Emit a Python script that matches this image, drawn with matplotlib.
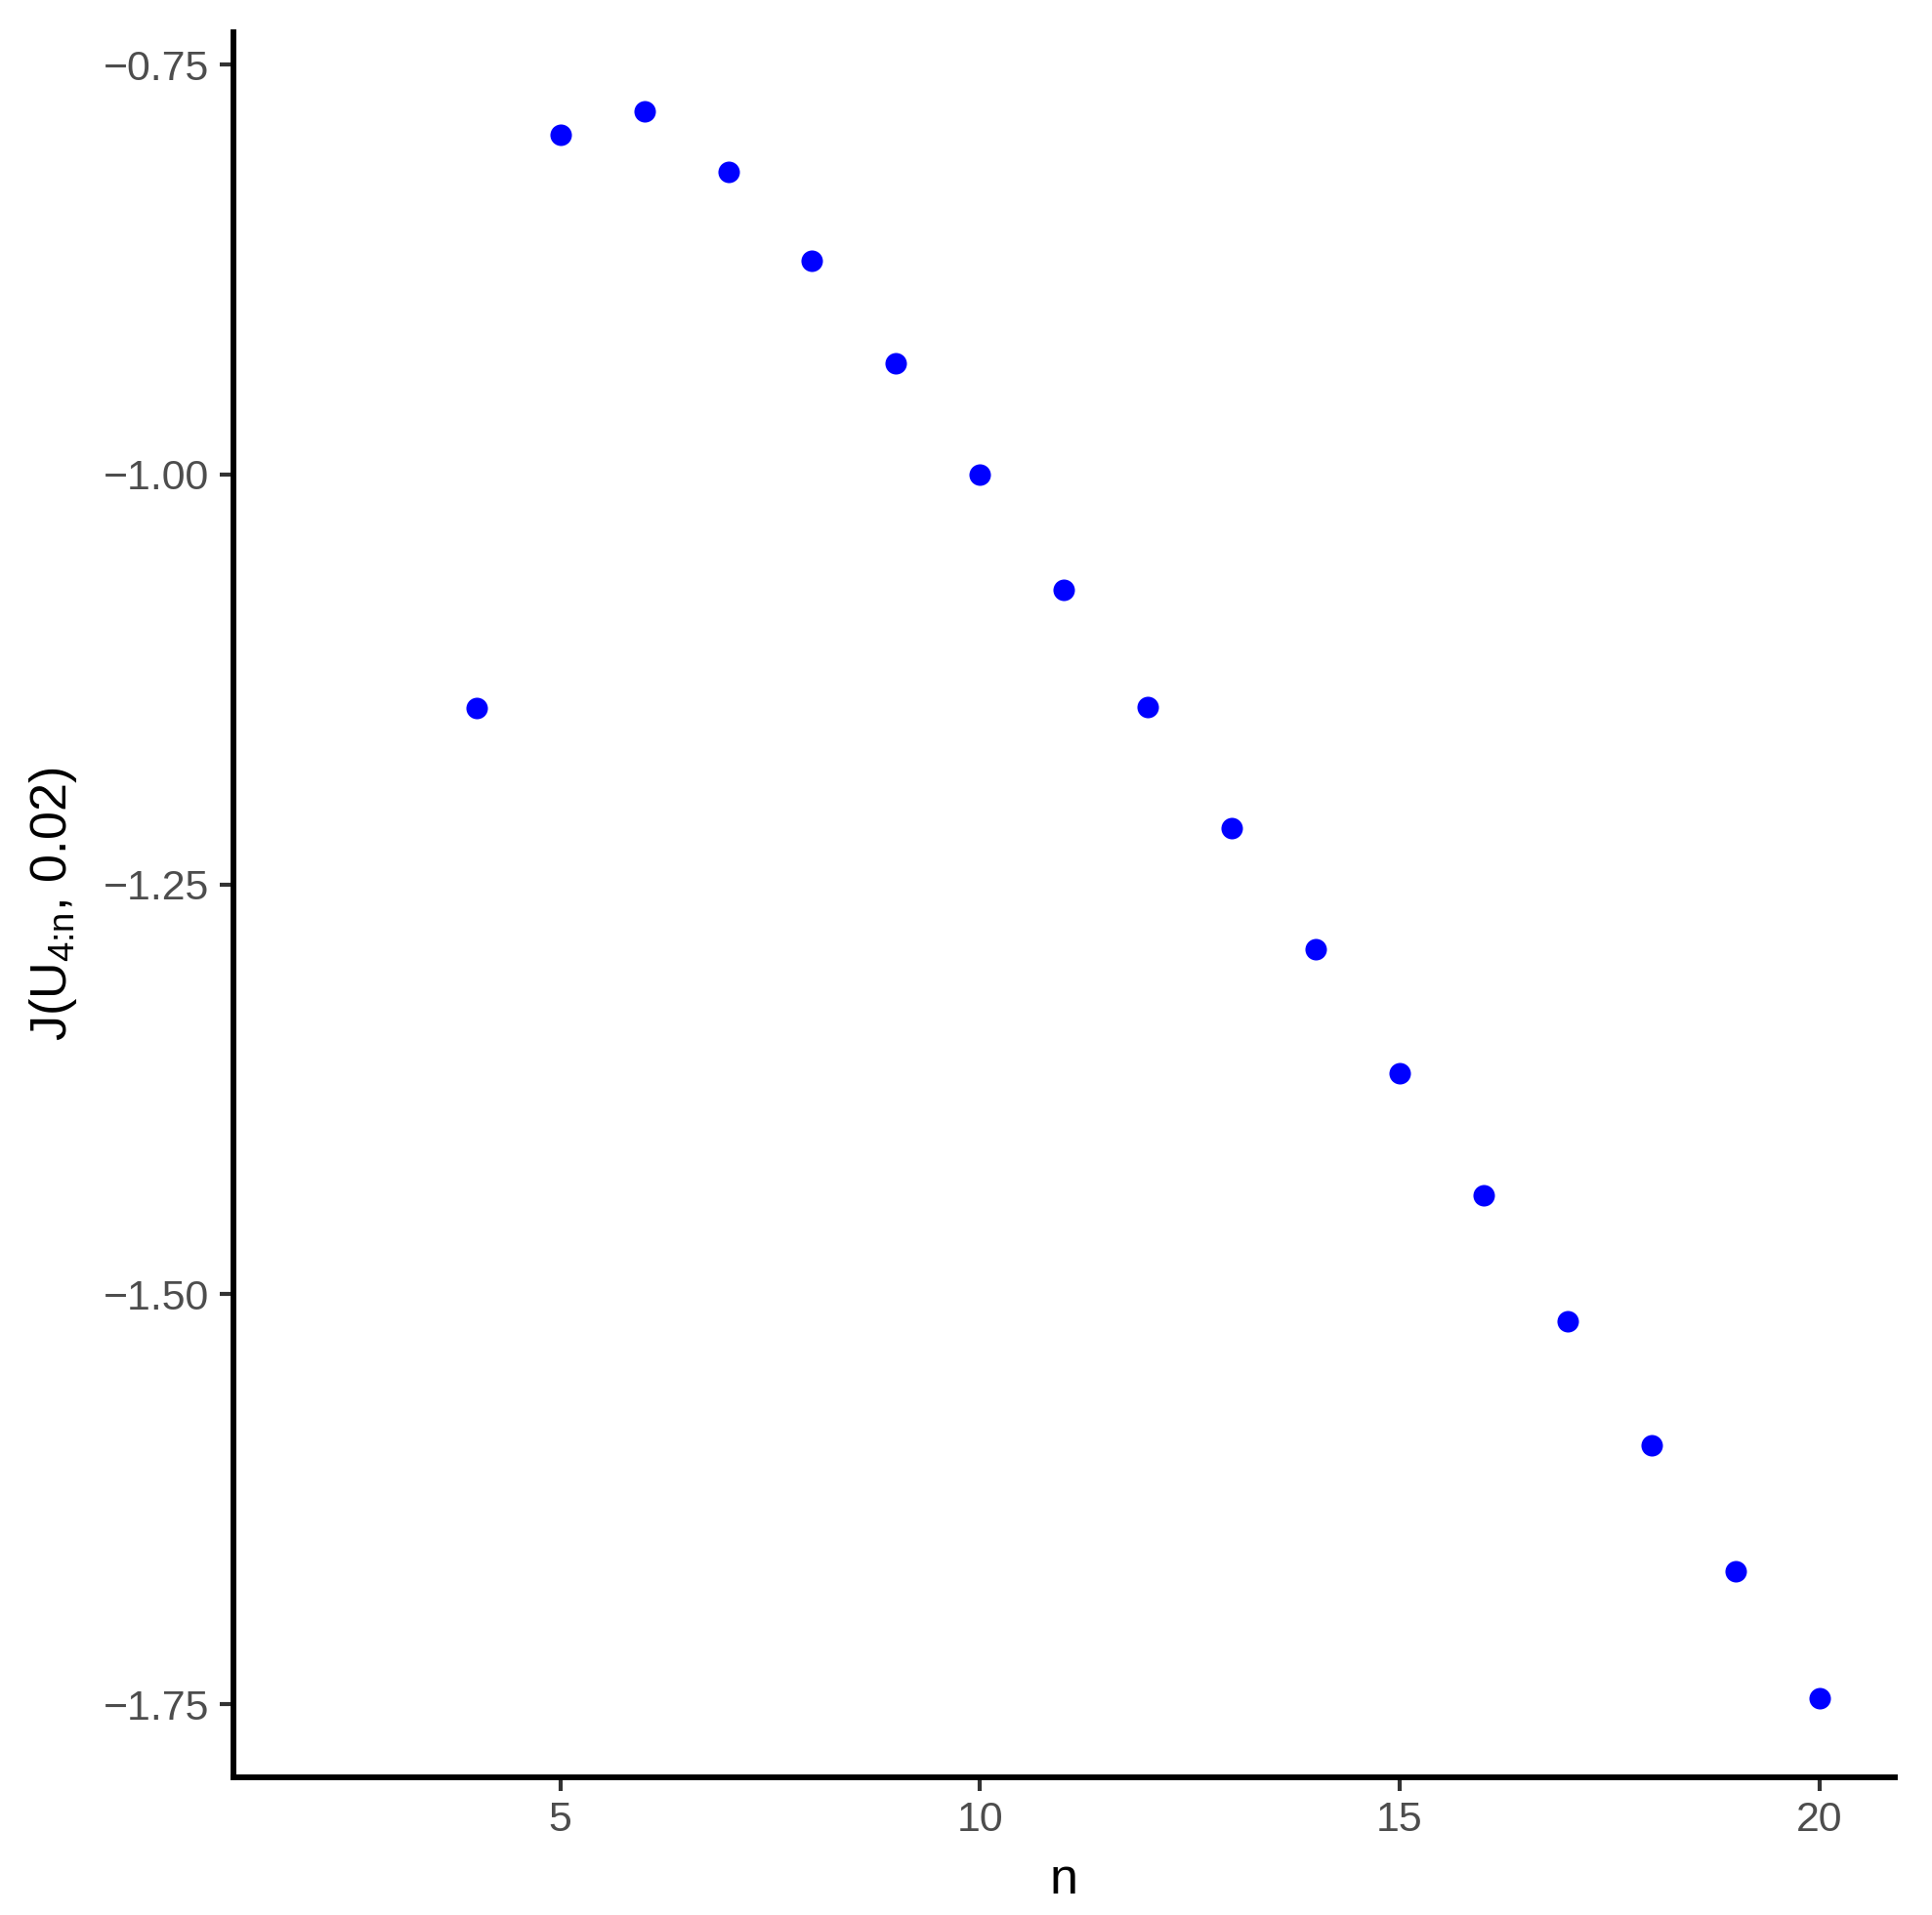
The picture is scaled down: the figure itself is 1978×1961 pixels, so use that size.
import matplotlib
matplotlib.use('Agg')
import matplotlib.pyplot as plt

# values
n_values = [4, 5, 6, 7, 8, 9, 10, 11, 12, 13, 14, 15, 16, 17, 18, 19, 20]
j_values = [-1.1426, -0.7928, -0.7785, -0.8153, -0.8694, -0.9324, -1.0000,
            -1.0706, -1.1419, -1.2155, -1.2898, -1.3649, -1.4399, -1.5165,
            -1.5923, -1.6689, -1.7462]
y_ticks = [-0.75, -1.00, -1.25, -1.50, -1.75]
x_ticks = [5, 10, 15, 20]

plt.rcParams['font.family'] = ['Liberation Sans', 'DejaVu Sans']
plt.rcParams['mathtext.fontset'] = 'custom'
plt.rcParams['mathtext.rm'] = 'Liberation Sans'
plt.rcParams['axes.unicode_minus'] = True

fig = plt.figure(figsize=(1978 / 300, 1961 / 300), dpi=300)
ax = fig.add_axes([0.1206, 0.0719, 0.9808 - 0.1206, 0.9833 - 0.0719])

ax.scatter(n_values, j_values, s=28, color='#0000FF', linewidths=0, zorder=3)

# x axis spans n = 2..20 with 5% padding
ax.set_xlim(2 - 0.9, 20 + 0.9)
ax.margins(y=0.05)
ax.set_xticks(x_ticks)
ax.set_yticks(y_ticks)
ax.set_yticklabels(['\u22120.75', '\u22121.00', '\u22121.25', '\u22121.50', '\u22121.75'])

for side in ['top', 'right']:
    ax.spines[side].set_visible(False)
for side in ['left', 'bottom']:
    ax.spines[side].set_linewidth(1.4)
    ax.spines[side].set_color('black')

ax.tick_params(axis='both', length=3.3, width=1.0, color='#333333',
               labelsize=10.3, labelcolor='#4D4D4D', pad=2.5)

ax.set_xlabel('n', fontsize=12.5, color='black', labelpad=4)
ax.set_ylabel(r'J(U$_{\text{4:n}}$, 0.02)', fontsize=12.5,
              color='black', labelpad=6)

fig.savefig('out.png', dpi=300)
